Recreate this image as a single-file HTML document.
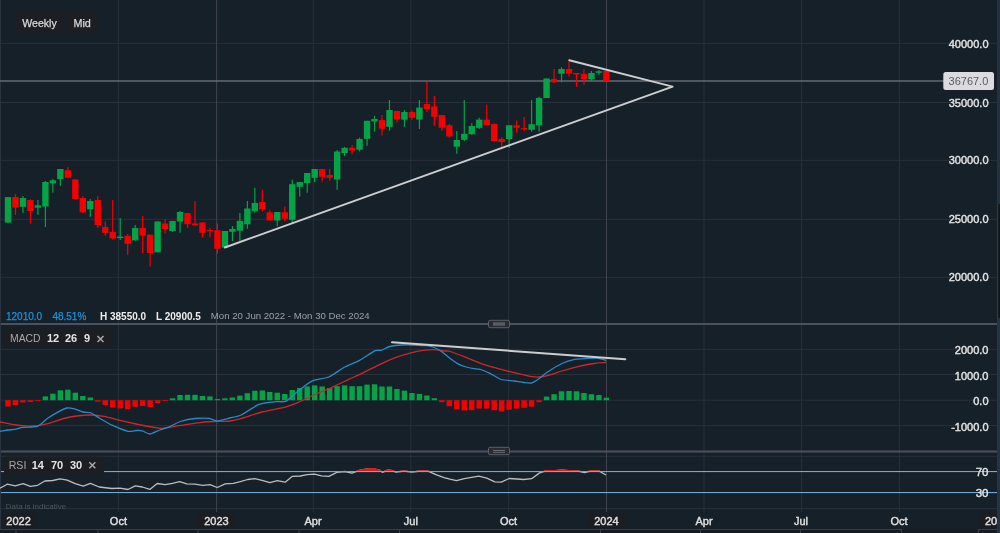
<!DOCTYPE html><html><head><meta charset="utf-8"><style>
html,body{margin:0;padding:0;background:#162029;overflow:hidden;width:1000px;height:533px}
svg{display:block;will-change:transform}
text{font-family:"Liberation Sans",sans-serif}
</style></head><body>
<svg width="1000" height="533" viewBox="0 0 1000 533">
<rect x="0" y="0" width="1000" height="533" fill="#162029"/>
<rect x="0" y="0" width="1" height="529" fill="#2a3440"/>
<rect x="1" y="42.8" width="996" height="1" fill="#29313b"/>
<rect x="1" y="102.0" width="996" height="1" fill="#29313b"/>
<rect x="1" y="159.8" width="996" height="1" fill="#29313b"/>
<rect x="1" y="218.8" width="996" height="1" fill="#29313b"/>
<rect x="1" y="276.8" width="996" height="1" fill="#29313b"/>
<rect x="1" y="348.8" width="996" height="1" fill="#29313b"/>
<rect x="1" y="374.0" width="996" height="1" fill="#29313b"/>
<rect x="1" y="399.7" width="996" height="1" fill="#29313b"/>
<rect x="1" y="425.1" width="996" height="1" fill="#29313b"/>
<rect x="1" y="455.8" width="996" height="1" fill="#29313b"/>
<rect x="1" y="508.1" width="996" height="1" fill="#29313b"/>
<rect x="117.9" y="0" width="1" height="512" fill="#29313b"/>
<rect x="216.1" y="0" width="1" height="512" fill="#40444e"/>
<rect x="312.8" y="0" width="1" height="512" fill="#29313b"/>
<rect x="410.3" y="0" width="1" height="512" fill="#29313b"/>
<rect x="508.1" y="0" width="1" height="512" fill="#29313b"/>
<rect x="606.0" y="0" width="1" height="512" fill="#40444e"/>
<rect x="703.5" y="0" width="1" height="512" fill="#29313b"/>
<rect x="800.9" y="0" width="1" height="512" fill="#29313b"/>
<rect x="898.9" y="0" width="1" height="512" fill="#29313b"/>
<rect x="0" y="80.3" width="945" height="1.4" fill="#6b7079"/>
<rect x="1" y="323" width="996" height="2" fill="#4d505e"/>
<rect x="1" y="450.5" width="996" height="2" fill="#4d505e"/>
<rect x="488.5" y="320.3" width="21" height="7.4" rx="1.5" fill="#2a2a30" stroke="#5a5e68" stroke-width="1"/>
<rect x="493" y="322.3" width="12" height="3.4" fill="#5a5c64"/>
<rect x="488.5" y="447.3" width="21" height="7.4" rx="1.5" fill="#2a2a30" stroke="#5a5e68" stroke-width="1"/>
<rect x="493" y="450" width="12" height="1" fill="#6a6c74"/><rect x="493" y="451.8" width="12" height="1" fill="#6a6c74"/>
<rect x="7.40" y="197.0" width="1.2" height="26.0" fill="#04a347"/>
<rect x="4.80" y="197.1" width="6.4" height="25.5" fill="#04a347"/>
<rect x="14.88" y="194.2" width="1.2" height="20.8" fill="#f40000"/>
<rect x="12.28" y="197.0" width="6.4" height="10.6" fill="#f40000"/>
<rect x="22.36" y="196.0" width="1.2" height="17.0" fill="#04a347"/>
<rect x="19.76" y="198.0" width="6.4" height="8.8" fill="#04a347"/>
<rect x="29.84" y="199.3" width="1.2" height="24.2" fill="#f40000"/>
<rect x="27.24" y="200.0" width="6.4" height="11.0" fill="#f40000"/>
<rect x="37.32" y="200.0" width="1.2" height="14.8" fill="#04a347"/>
<rect x="34.72" y="205.3" width="6.4" height="2.4" fill="#04a347"/>
<rect x="44.80" y="181.0" width="1.2" height="46.0" fill="#04a347"/>
<rect x="42.20" y="182.0" width="6.4" height="24.5" fill="#04a347"/>
<rect x="52.28" y="178.8" width="1.2" height="13.8" fill="#04a347"/>
<rect x="49.68" y="180.3" width="6.4" height="3.0" fill="#04a347"/>
<rect x="59.76" y="169.0" width="1.2" height="16.8" fill="#04a347"/>
<rect x="57.16" y="169.0" width="6.4" height="10.2" fill="#04a347"/>
<rect x="67.24" y="167.0" width="1.2" height="10.7" fill="#f40000"/>
<rect x="64.64" y="170.2" width="6.4" height="7.5" fill="#f40000"/>
<rect x="74.72" y="179.5" width="1.2" height="19.5" fill="#f40000"/>
<rect x="72.12" y="179.5" width="6.4" height="19.5" fill="#f40000"/>
<rect x="82.20" y="196.0" width="1.2" height="17.0" fill="#f40000"/>
<rect x="79.60" y="198.0" width="6.4" height="14.3" fill="#f40000"/>
<rect x="89.68" y="199.0" width="1.2" height="17.8" fill="#04a347"/>
<rect x="87.08" y="201.0" width="6.4" height="8.3" fill="#04a347"/>
<rect x="97.16" y="196.0" width="1.2" height="32.0" fill="#f40000"/>
<rect x="94.56" y="200.0" width="6.4" height="25.0" fill="#f40000"/>
<rect x="104.64" y="221.6" width="1.2" height="14.2" fill="#f40000"/>
<rect x="102.04" y="227.0" width="6.4" height="5.8" fill="#f40000"/>
<rect x="112.12" y="200.0" width="1.2" height="39.3" fill="#f40000"/>
<rect x="109.52" y="231.8" width="6.4" height="6.7" fill="#f40000"/>
<rect x="119.60" y="218.0" width="1.2" height="22.0" fill="#04a347"/>
<rect x="117.00" y="236.6" width="6.4" height="1.4" fill="#04a347"/>
<rect x="127.08" y="234.0" width="1.2" height="21.0" fill="#f40000"/>
<rect x="124.48" y="235.8" width="6.4" height="8.0" fill="#f40000"/>
<rect x="134.56" y="225.0" width="1.2" height="15.8" fill="#04a347"/>
<rect x="131.96" y="228.0" width="6.4" height="12.3" fill="#04a347"/>
<rect x="142.04" y="216.0" width="1.2" height="37.5" fill="#f40000"/>
<rect x="139.44" y="228.0" width="6.4" height="7.5" fill="#f40000"/>
<rect x="149.52" y="234.7" width="1.2" height="31.8" fill="#f40000"/>
<rect x="146.92" y="234.7" width="6.4" height="18.3" fill="#f40000"/>
<rect x="157.00" y="221.5" width="1.2" height="30.8" fill="#04a347"/>
<rect x="154.40" y="221.5" width="6.4" height="30.8" fill="#04a347"/>
<rect x="164.48" y="219.0" width="1.2" height="14.5" fill="#f40000"/>
<rect x="161.88" y="223.5" width="6.4" height="5.5" fill="#f40000"/>
<rect x="171.96" y="221.0" width="1.2" height="10.7" fill="#04a347"/>
<rect x="169.36" y="221.0" width="6.4" height="10.0" fill="#04a347"/>
<rect x="179.44" y="211.0" width="1.2" height="21.8" fill="#04a347"/>
<rect x="176.84" y="212.0" width="6.4" height="9.5" fill="#04a347"/>
<rect x="186.92" y="213.0" width="1.2" height="15.0" fill="#f40000"/>
<rect x="184.32" y="213.0" width="6.4" height="11.2" fill="#f40000"/>
<rect x="194.40" y="201.0" width="1.2" height="25.0" fill="#f40000"/>
<rect x="191.80" y="223.5" width="6.4" height="1.8" fill="#f40000"/>
<rect x="201.88" y="222.5" width="1.2" height="15.0" fill="#f40000"/>
<rect x="199.28" y="222.5" width="6.4" height="10.3" fill="#f40000"/>
<rect x="209.36" y="228.0" width="1.2" height="9.5" fill="#f40000"/>
<rect x="206.76" y="230.0" width="6.4" height="1.2" fill="#f40000"/>
<rect x="216.84" y="223.5" width="1.2" height="30.5" fill="#f40000"/>
<rect x="214.24" y="230.3" width="6.4" height="18.4" fill="#f40000"/>
<rect x="224.32" y="231.0" width="1.2" height="16.5" fill="#04a347"/>
<rect x="221.72" y="231.0" width="6.4" height="16.5" fill="#04a347"/>
<rect x="231.80" y="226.0" width="1.2" height="15.0" fill="#04a347"/>
<rect x="229.20" y="229.0" width="6.4" height="2.8" fill="#04a347"/>
<rect x="239.28" y="213.0" width="1.2" height="27.8" fill="#04a347"/>
<rect x="236.68" y="220.8" width="6.4" height="9.9" fill="#04a347"/>
<rect x="246.76" y="201.0" width="1.2" height="27.8" fill="#04a347"/>
<rect x="244.16" y="208.5" width="6.4" height="15.8" fill="#04a347"/>
<rect x="254.24" y="187.8" width="1.2" height="24.9" fill="#04a347"/>
<rect x="251.64" y="203.0" width="6.4" height="8.2" fill="#04a347"/>
<rect x="261.72" y="189.8" width="1.2" height="21.7" fill="#f40000"/>
<rect x="259.12" y="202.0" width="6.4" height="7.3" fill="#f40000"/>
<rect x="269.20" y="210.3" width="1.2" height="10.2" fill="#f40000"/>
<rect x="266.60" y="212.3" width="6.4" height="8.2" fill="#f40000"/>
<rect x="276.68" y="212.0" width="1.2" height="14.2" fill="#04a347"/>
<rect x="274.08" y="212.0" width="6.4" height="8.5" fill="#04a347"/>
<rect x="284.16" y="206.7" width="1.2" height="14.6" fill="#f40000"/>
<rect x="281.56" y="212.3" width="6.4" height="6.4" fill="#f40000"/>
<rect x="291.64" y="179.6" width="1.2" height="43.9" fill="#04a347"/>
<rect x="289.04" y="184.2" width="6.4" height="35.6" fill="#04a347"/>
<rect x="299.12" y="182.0" width="1.2" height="14.5" fill="#04a347"/>
<rect x="296.52" y="182.0" width="6.4" height="4.8" fill="#04a347"/>
<rect x="306.60" y="173.0" width="1.2" height="19.8" fill="#04a347"/>
<rect x="304.00" y="173.0" width="6.4" height="10.0" fill="#04a347"/>
<rect x="314.08" y="169.0" width="1.2" height="13.3" fill="#04a347"/>
<rect x="311.48" y="169.0" width="6.4" height="8.8" fill="#04a347"/>
<rect x="321.56" y="169.0" width="1.2" height="12.5" fill="#f40000"/>
<rect x="318.96" y="169.0" width="6.4" height="7.7" fill="#f40000"/>
<rect x="329.04" y="169.0" width="1.2" height="11.8" fill="#f40000"/>
<rect x="326.44" y="175.0" width="6.4" height="2.8" fill="#f40000"/>
<rect x="336.52" y="150.0" width="1.2" height="39.8" fill="#04a347"/>
<rect x="333.92" y="151.5" width="6.4" height="28.1" fill="#04a347"/>
<rect x="344.00" y="147.0" width="1.2" height="9.0" fill="#04a347"/>
<rect x="341.40" y="147.8" width="6.4" height="5.2" fill="#04a347"/>
<rect x="351.48" y="145.0" width="1.2" height="9.2" fill="#f40000"/>
<rect x="348.88" y="147.8" width="6.4" height="2.7" fill="#f40000"/>
<rect x="358.96" y="137.6" width="1.2" height="13.9" fill="#04a347"/>
<rect x="356.36" y="139.0" width="6.4" height="10.7" fill="#04a347"/>
<rect x="366.44" y="120.8" width="1.2" height="25.0" fill="#04a347"/>
<rect x="363.84" y="120.8" width="6.4" height="18.0" fill="#04a347"/>
<rect x="373.92" y="115.8" width="1.2" height="15.9" fill="#04a347"/>
<rect x="371.32" y="119.0" width="6.4" height="2.5" fill="#04a347"/>
<rect x="381.40" y="115.0" width="1.2" height="20.5" fill="#f40000"/>
<rect x="378.80" y="120.0" width="6.4" height="8.7" fill="#f40000"/>
<rect x="388.88" y="100.0" width="1.2" height="30.8" fill="#04a347"/>
<rect x="386.28" y="110.0" width="6.4" height="16.8" fill="#04a347"/>
<rect x="396.36" y="110.6" width="1.2" height="11.7" fill="#f40000"/>
<rect x="393.76" y="111.0" width="6.4" height="8.6" fill="#f40000"/>
<rect x="403.84" y="110.0" width="1.2" height="16.8" fill="#04a347"/>
<rect x="401.24" y="112.0" width="6.4" height="7.7" fill="#04a347"/>
<rect x="411.32" y="110.6" width="1.2" height="9.0" fill="#f40000"/>
<rect x="408.72" y="112.0" width="6.4" height="5.8" fill="#f40000"/>
<rect x="418.80" y="100.0" width="1.2" height="29.0" fill="#04a347"/>
<rect x="416.20" y="107.6" width="6.4" height="12.0" fill="#04a347"/>
<rect x="426.28" y="82.0" width="1.2" height="29.8" fill="#f40000"/>
<rect x="423.68" y="104.0" width="6.4" height="5.2" fill="#f40000"/>
<rect x="433.76" y="96.0" width="1.2" height="30.0" fill="#f40000"/>
<rect x="431.16" y="106.5" width="6.4" height="10.2" fill="#f40000"/>
<rect x="441.24" y="115.0" width="1.2" height="15.8" fill="#f40000"/>
<rect x="438.64" y="115.0" width="6.4" height="12.8" fill="#f40000"/>
<rect x="448.72" y="124.0" width="1.2" height="13.7" fill="#f40000"/>
<rect x="446.12" y="125.3" width="6.4" height="11.2" fill="#f40000"/>
<rect x="456.20" y="131.0" width="1.2" height="22.8" fill="#04a347"/>
<rect x="453.60" y="140.0" width="6.4" height="6.7" fill="#04a347"/>
<rect x="463.68" y="100.0" width="1.2" height="41.0" fill="#04a347"/>
<rect x="461.08" y="133.8" width="6.4" height="6.0" fill="#04a347"/>
<rect x="471.16" y="123.3" width="1.2" height="11.3" fill="#04a347"/>
<rect x="468.56" y="126.0" width="6.4" height="8.3" fill="#04a347"/>
<rect x="478.64" y="117.8" width="1.2" height="11.2" fill="#04a347"/>
<rect x="476.04" y="119.6" width="6.4" height="8.2" fill="#04a347"/>
<rect x="486.12" y="104.6" width="1.2" height="20.7" fill="#f40000"/>
<rect x="483.52" y="119.7" width="6.4" height="5.6" fill="#f40000"/>
<rect x="493.60" y="123.3" width="1.2" height="17.7" fill="#f40000"/>
<rect x="491.00" y="124.0" width="6.4" height="17.0" fill="#f40000"/>
<rect x="501.08" y="137.3" width="1.2" height="12.0" fill="#f40000"/>
<rect x="498.48" y="139.0" width="6.4" height="3.0" fill="#f40000"/>
<rect x="508.56" y="125.3" width="1.2" height="22.5" fill="#04a347"/>
<rect x="505.96" y="125.3" width="6.4" height="13.7" fill="#04a347"/>
<rect x="516.04" y="120.5" width="1.2" height="12.3" fill="#f40000"/>
<rect x="513.44" y="125.3" width="6.4" height="2.5" fill="#f40000"/>
<rect x="523.52" y="117.0" width="1.2" height="13.8" fill="#f40000"/>
<rect x="520.92" y="128.0" width="6.4" height="1.3" fill="#f40000"/>
<rect x="531.00" y="100.0" width="1.2" height="31.7" fill="#04a347"/>
<rect x="528.40" y="124.2" width="6.4" height="5.6" fill="#04a347"/>
<rect x="538.48" y="96.8" width="1.2" height="34.9" fill="#04a347"/>
<rect x="535.88" y="98.0" width="6.4" height="27.3" fill="#04a347"/>
<rect x="545.96" y="78.5" width="1.2" height="19.5" fill="#04a347"/>
<rect x="543.36" y="78.5" width="6.4" height="19.5" fill="#04a347"/>
<rect x="553.44" y="69.0" width="1.2" height="14.0" fill="#f40000"/>
<rect x="550.84" y="79.0" width="6.4" height="3.3" fill="#f40000"/>
<rect x="560.92" y="67.3" width="1.2" height="15.0" fill="#04a347"/>
<rect x="558.32" y="69.0" width="6.4" height="4.7" fill="#04a347"/>
<rect x="568.40" y="61.3" width="1.2" height="15.4" fill="#f40000"/>
<rect x="565.80" y="69.0" width="6.4" height="4.6" fill="#f40000"/>
<rect x="575.88" y="73.0" width="1.2" height="13.8" fill="#f40000"/>
<rect x="573.28" y="73.0" width="6.4" height="1.5" fill="#f40000"/>
<rect x="583.36" y="69.0" width="1.2" height="15.8" fill="#f40000"/>
<rect x="580.76" y="73.7" width="6.4" height="5.6" fill="#f40000"/>
<rect x="590.84" y="71.0" width="1.2" height="9.8" fill="#04a347"/>
<rect x="588.24" y="73.0" width="6.4" height="6.3" fill="#04a347"/>
<rect x="598.32" y="70.0" width="1.2" height="4.8" fill="#04a347"/>
<rect x="595.72" y="71.3" width="6.4" height="1.5" fill="#04a347"/>
<rect x="605.80" y="70.3" width="1.2" height="10.9" fill="#f40000"/>
<rect x="603.20" y="71.0" width="6.4" height="10.2" fill="#f40000"/>
<polyline points="224.8,247.5 672.6,86.6 569.3,60.2" fill="none" stroke="#cdcdcf" stroke-width="2" stroke-linecap="round" stroke-linejoin="round"/>
<rect x="5.30" y="400.2" width="5.4" height="6.3" fill="#f40000"/>
<rect x="12.78" y="400.2" width="5.4" height="4.8" fill="#f40000"/>
<rect x="20.26" y="400.2" width="5.4" height="2.3" fill="#f40000"/>
<rect x="27.74" y="400.2" width="5.4" height="1.8" fill="#f40000"/>
<rect x="35.22" y="400.2" width="5.4" height="0.8" fill="#f40000"/>
<rect x="42.70" y="396.4" width="5.4" height="3.8" fill="#04a347"/>
<rect x="50.18" y="393.7" width="5.4" height="6.5" fill="#04a347"/>
<rect x="57.66" y="390.3" width="5.4" height="9.9" fill="#04a347"/>
<rect x="65.14" y="389.7" width="5.4" height="10.5" fill="#04a347"/>
<rect x="72.62" y="392.7" width="5.4" height="7.5" fill="#04a347"/>
<rect x="80.10" y="396.0" width="5.4" height="4.2" fill="#04a347"/>
<rect x="87.58" y="397.5" width="5.4" height="2.7" fill="#04a347"/>
<rect x="95.06" y="400.2" width="5.4" height="1.5" fill="#f40000"/>
<rect x="102.54" y="400.2" width="5.4" height="4.8" fill="#f40000"/>
<rect x="110.02" y="400.2" width="5.4" height="7.4" fill="#f40000"/>
<rect x="117.50" y="400.2" width="5.4" height="8.2" fill="#f40000"/>
<rect x="124.98" y="400.2" width="5.4" height="9.0" fill="#f40000"/>
<rect x="132.46" y="400.2" width="5.4" height="6.6" fill="#f40000"/>
<rect x="139.94" y="400.2" width="5.4" height="5.8" fill="#f40000"/>
<rect x="147.42" y="400.2" width="5.4" height="6.8" fill="#f40000"/>
<rect x="154.90" y="400.2" width="5.4" height="2.8" fill="#f40000"/>
<rect x="162.38" y="400.2" width="5.4" height="0.8" fill="#f40000"/>
<rect x="169.86" y="398.3" width="5.4" height="1.9" fill="#04a347"/>
<rect x="177.34" y="395.0" width="5.4" height="5.2" fill="#04a347"/>
<rect x="184.82" y="394.8" width="5.4" height="5.4" fill="#04a347"/>
<rect x="192.30" y="394.8" width="5.4" height="5.4" fill="#04a347"/>
<rect x="199.78" y="396.0" width="5.4" height="4.2" fill="#04a347"/>
<rect x="207.26" y="396.4" width="5.4" height="3.8" fill="#04a347"/>
<rect x="214.74" y="399.0" width="5.4" height="1.2" fill="#04a347"/>
<rect x="222.22" y="398.3" width="5.4" height="1.9" fill="#04a347"/>
<rect x="229.70" y="397.5" width="5.4" height="2.7" fill="#04a347"/>
<rect x="237.18" y="395.6" width="5.4" height="4.6" fill="#04a347"/>
<rect x="244.66" y="393.2" width="5.4" height="7.0" fill="#04a347"/>
<rect x="252.14" y="390.8" width="5.4" height="9.4" fill="#04a347"/>
<rect x="259.62" y="390.5" width="5.4" height="9.7" fill="#04a347"/>
<rect x="267.10" y="392.0" width="5.4" height="8.2" fill="#04a347"/>
<rect x="274.58" y="392.7" width="5.4" height="7.5" fill="#04a347"/>
<rect x="282.06" y="394.0" width="5.4" height="6.2" fill="#04a347"/>
<rect x="289.54" y="390.0" width="5.4" height="10.2" fill="#04a347"/>
<rect x="297.02" y="388.0" width="5.4" height="12.2" fill="#04a347"/>
<rect x="304.50" y="386.5" width="5.4" height="13.7" fill="#04a347"/>
<rect x="311.98" y="385.4" width="5.4" height="14.8" fill="#04a347"/>
<rect x="319.46" y="386.5" width="5.4" height="13.7" fill="#04a347"/>
<rect x="326.94" y="388.0" width="5.4" height="12.2" fill="#04a347"/>
<rect x="334.42" y="386.2" width="5.4" height="14.0" fill="#04a347"/>
<rect x="341.90" y="385.4" width="5.4" height="14.8" fill="#04a347"/>
<rect x="349.38" y="386.2" width="5.4" height="14.0" fill="#04a347"/>
<rect x="356.86" y="386.2" width="5.4" height="14.0" fill="#04a347"/>
<rect x="364.34" y="384.6" width="5.4" height="15.6" fill="#04a347"/>
<rect x="371.82" y="384.3" width="5.4" height="15.9" fill="#04a347"/>
<rect x="379.30" y="386.5" width="5.4" height="13.7" fill="#04a347"/>
<rect x="386.78" y="386.5" width="5.4" height="13.7" fill="#04a347"/>
<rect x="394.26" y="389.0" width="5.4" height="11.2" fill="#04a347"/>
<rect x="401.74" y="390.7" width="5.4" height="9.5" fill="#04a347"/>
<rect x="409.22" y="393.0" width="5.4" height="7.2" fill="#04a347"/>
<rect x="416.70" y="393.9" width="5.4" height="6.3" fill="#04a347"/>
<rect x="424.18" y="395.5" width="5.4" height="4.7" fill="#04a347"/>
<rect x="431.66" y="398.2" width="5.4" height="2.0" fill="#04a347"/>
<rect x="439.14" y="400.2" width="5.4" height="2.0" fill="#f40000"/>
<rect x="446.62" y="400.2" width="5.4" height="6.0" fill="#f40000"/>
<rect x="454.10" y="400.2" width="5.4" height="9.2" fill="#f40000"/>
<rect x="461.58" y="400.2" width="5.4" height="10.3" fill="#f40000"/>
<rect x="469.06" y="400.2" width="5.4" height="10.0" fill="#f40000"/>
<rect x="476.54" y="400.2" width="5.4" height="8.4" fill="#f40000"/>
<rect x="484.02" y="400.2" width="5.4" height="8.4" fill="#f40000"/>
<rect x="491.50" y="400.2" width="5.4" height="10.0" fill="#f40000"/>
<rect x="498.98" y="400.2" width="5.4" height="11.3" fill="#f40000"/>
<rect x="506.46" y="400.2" width="5.4" height="9.5" fill="#f40000"/>
<rect x="513.94" y="400.2" width="5.4" height="8.4" fill="#f40000"/>
<rect x="521.42" y="400.2" width="5.4" height="7.6" fill="#f40000"/>
<rect x="528.90" y="400.2" width="5.4" height="6.5" fill="#f40000"/>
<rect x="536.38" y="400.2" width="5.4" height="2.0" fill="#f40000"/>
<rect x="543.86" y="396.6" width="5.4" height="3.6" fill="#04a347"/>
<rect x="551.34" y="394.2" width="5.4" height="6.0" fill="#04a347"/>
<rect x="558.82" y="391.3" width="5.4" height="8.9" fill="#04a347"/>
<rect x="566.30" y="391.0" width="5.4" height="9.2" fill="#04a347"/>
<rect x="573.78" y="391.3" width="5.4" height="8.9" fill="#04a347"/>
<rect x="581.26" y="393.0" width="5.4" height="7.2" fill="#04a347"/>
<rect x="588.74" y="394.2" width="5.4" height="6.0" fill="#04a347"/>
<rect x="596.22" y="395.0" width="5.4" height="5.2" fill="#04a347"/>
<rect x="603.70" y="397.7" width="5.4" height="2.5" fill="#04a347"/>
<path d="M0.0,422.0 C2.7,422.5 10.7,424.3 16.0,425.0 C21.3,425.7 26.7,426.2 32.0,426.0 C37.3,425.8 42.7,424.9 48.0,423.6 C53.3,422.4 59.2,419.8 64.0,418.5 C68.8,417.2 72.3,416.6 76.8,416.0 C81.3,415.4 86.7,414.9 91.2,415.0 C95.7,415.1 99.2,415.5 104.0,416.4 C108.8,417.3 114.7,419.1 120.0,420.4 C125.3,421.7 130.7,422.9 136.0,424.0 C141.3,425.1 147.5,426.3 152.0,427.0 C156.5,427.7 158.3,428.6 162.8,428.4 C167.3,428.2 172.9,426.6 178.8,425.7 C184.7,424.8 192.1,423.5 198.0,422.8 C203.9,422.1 208.7,421.8 214.0,421.5 C219.3,421.2 225.2,421.6 230.0,421.0 C234.8,420.4 237.5,419.5 242.8,418.0 C248.1,416.5 254.8,413.9 262.0,412.0 C269.2,410.1 280.1,408.3 286.0,406.8 C291.9,405.3 292.2,404.9 297.2,402.8 C302.2,400.7 310.2,396.6 316.0,394.0 C321.8,391.4 326.7,389.7 332.0,387.3 C337.3,384.9 342.7,382.3 348.0,379.8 C353.3,377.3 358.7,374.9 364.0,372.3 C369.3,369.7 374.7,366.8 380.0,364.3 C385.3,361.8 390.7,359.3 396.0,357.4 C401.3,355.4 407.2,353.8 412.0,352.6 C416.8,351.4 421.1,350.7 424.8,350.2 C428.5,349.7 431.2,349.6 434.4,349.7 C437.6,349.8 441.4,350.7 444.0,351.0 C446.6,351.3 446.3,350.4 450.0,351.5 C453.7,352.6 460.7,355.3 466.0,357.4 C471.3,359.4 476.7,361.9 482.0,363.8 C487.3,365.7 492.7,367.1 498.0,368.6 C503.3,370.1 508.7,371.3 514.0,372.6 C519.3,373.9 525.7,375.6 530.0,376.3 C534.3,377.0 536.4,377.2 539.6,377.0 C542.8,376.8 545.5,376.0 549.2,375.0 C552.9,374.0 557.2,372.4 562.0,371.0 C566.8,369.6 572.7,367.9 578.0,366.7 C583.3,365.4 589.3,364.2 594.0,363.5 C598.7,362.8 604.0,362.7 606.0,362.5" fill="none" stroke="#cf262b" stroke-width="1.3" stroke-linejoin="round"/>
<path d="M0.0,431.3 C0.8,431.2 6.4,430.2 8.0,430.0 C9.6,429.8 14.6,429.5 16.0,429.2 C17.4,428.9 20.8,427.5 22.4,427.3 C24.0,427.1 30.4,427.1 32.0,427.0 C33.6,426.9 36.8,426.9 38.4,426.0 C40.0,425.1 45.9,419.5 48.0,418.0 C50.1,416.5 57.3,412.3 59.2,411.3 C61.1,410.3 65.6,408.2 67.2,408.0 C68.8,407.8 73.6,408.8 75.2,409.2 C76.8,409.6 81.6,411.6 83.2,412.0 C84.8,412.4 89.6,412.4 91.2,413.0 C92.8,413.6 97.1,416.8 99.2,418.0 C101.3,419.2 109.1,423.9 112.0,425.2 C114.9,426.5 125.6,430.8 128.0,431.3 C130.4,431.8 134.6,430.6 136.0,430.5 C137.4,430.4 141.0,430.4 142.4,430.8 C143.8,431.2 148.1,434.1 149.8,434.0 C151.5,433.9 157.7,430.7 159.6,430.0 C161.5,429.3 167.1,427.7 169.2,426.8 C171.3,425.9 177.8,422.3 180.4,421.5 C183.0,420.7 191.9,418.8 194.8,418.5 C197.7,418.2 207.0,418.1 209.2,418.3 C211.4,418.6 215.1,421.0 217.2,421.0 C219.3,421.0 227.6,418.6 230.0,418.0 C232.4,417.4 238.5,416.3 241.2,415.0 C243.9,413.7 254.8,406.4 257.2,405.2 C259.6,404.0 263.3,403.4 265.2,403.0 C267.1,402.6 274.3,401.9 276.4,401.7 C278.5,401.5 283.8,402.3 286.0,401.2 C288.2,400.1 295.3,393.1 298.0,391.0 C300.7,388.9 309.7,382.0 312.8,380.6 C315.9,379.2 325.6,378.4 328.8,377.0 C332.0,375.6 341.8,368.6 344.8,367.0 C347.8,365.4 356.2,362.2 359.2,360.6 C362.2,359.0 373.0,351.7 375.2,350.7 C377.4,349.7 380.2,350.6 381.6,350.2 C383.0,349.8 387.5,347.0 389.6,346.5 C391.7,346.0 400.2,345.1 402.4,345.0 C404.6,344.9 409.6,344.9 412.0,345.0 C414.4,345.1 424.3,345.5 426.4,345.7 C428.5,345.9 431.4,346.5 432.8,347.0 C434.2,347.5 439.1,349.8 440.8,351.0 C442.5,352.2 448.5,357.3 450.2,358.6 C451.9,359.9 456.4,363.0 458.0,363.8 C459.6,364.6 464.4,366.5 466.0,367.0 C467.6,367.5 472.4,368.3 474.0,368.6 C475.6,368.9 480.4,369.5 482.0,370.0 C483.6,370.5 488.1,372.4 490.0,373.4 C491.9,374.3 498.8,378.7 501.2,379.5 C503.6,380.3 511.8,380.7 514.0,381.0 C516.2,381.3 521.8,382.3 523.6,382.5 C525.4,382.7 530.0,383.4 531.6,383.0 C533.2,382.6 538.0,379.3 539.6,378.2 C541.2,377.1 545.4,373.5 547.6,372.0 C549.8,370.5 559.3,364.8 562.0,363.5 C564.7,362.2 572.4,359.8 574.8,359.3 C577.2,358.8 583.8,358.6 586.0,358.5 C588.2,358.4 595.2,358.0 597.2,358.2 C599.2,358.4 605.1,360.1 606.0,360.3" fill="none" stroke="#2b8ac6" stroke-width="1.3" stroke-linejoin="round"/>
<line x1="392" y1="342.2" x2="625.3" y2="359.2" stroke="#cdcdcf" stroke-width="2" stroke-linecap="round"/>
<rect x="1" y="471" width="4" height="1.1" fill="#72aad4"/>
<rect x="1" y="492" width="996" height="1.1" fill="#72aad4"/>
<path d="M0.0,488.2 L7.2,484.2 L15.2,485.8 L23.2,483.7 L30.4,486.3 L37.6,485.3 L44.8,481.0 L52.8,480.5 L60.0,478.9 L67.2,480.2 L75.2,483.7 L83.2,486.1 L90.4,483.4 L99.2,487.0 L112.0,488.5 L120.0,488.2 L128.0,489.5 L135.2,485.8 L142.4,487.0 L149.8,489.4 L157.2,483.5 L165.2,484.6 L172.4,483.3 L179.6,481.7 L186.8,483.8 L194.8,484.1 L202.8,485.4 L210.0,484.6 L217.2,487.5 L225.2,483.8 L233.2,483.3 L240.4,481.7 L247.6,479.5 L254.8,478.7 L262.0,480.3 L270.0,482.7 L277.2,480.6 L285.2,482.2 L292.4,476.3 L300.2,476.0 L307.2,474.7 L314.4,474.2 L321.6,475.8 L328.8,476.3 L336.8,472.3 L344.8,471.5 L352.0,473.1 L359.2,470.5 L367.2,469.0 L373.6,468.8 L380.0,470.5 L382.4,472.3 L388.8,469.7 L396.0,472.1 L404.0,471.0 L412.0,472.2 L420.0,471.0 L428.0,471.1 L436.0,474.7 L444.0,477.7 L450.0,479.2 L456.4,480.6 L464.4,478.7 L471.6,477.4 L478.8,476.1 L486.8,478.2 L494.8,481.9 L501.2,482.2 L509.2,478.5 L517.2,479.0 L523.6,479.5 L531.6,478.7 L539.6,472.9 L546.0,470.8 L554.0,470.8 L562.0,469.9 L570.0,470.8 L578.0,471.0 L584.4,472.6 L590.8,471.0 L598.8,470.9 L606.0,475.0" fill="none" stroke="#bcbcbe" stroke-width="1.3" stroke-linejoin="round"/>
<path d="M356.4,471.5 L359.2,470.5 L367.2,469.0 L373.6,468.8 L380.0,470.5 L381.3,471.5 Z" fill="#d81c1c" stroke="none"/>
<path d="M356.4,471.5 L359.2,470.5 L367.2,469.0 L373.6,468.8 L380.0,470.5 L381.3,471.5" fill="none" stroke="#d81c1c" stroke-width="1.4" stroke-linejoin="round" stroke-linecap="round"/>
<path d="M384.4,471.5 L388.8,469.7 L394.2,471.5 Z" fill="#d81c1c" stroke="none"/>
<path d="M384.4,471.5 L388.8,469.7 L394.2,471.5" fill="none" stroke="#d81c1c" stroke-width="1.4" stroke-linejoin="round" stroke-linecap="round"/>
<path d="M400.4,471.5 L404.0,471.0 L407.3,471.5 Z" fill="#d81c1c" stroke="none"/>
<path d="M400.4,471.5 L404.0,471.0 L407.3,471.5" fill="none" stroke="#d81c1c" stroke-width="1.4" stroke-linejoin="round" stroke-linecap="round"/>
<path d="M416.7,471.5 L420.0,471.0 L428.0,471.1 L428.9,471.5 Z" fill="#d81c1c" stroke="none"/>
<path d="M416.7,471.5 L420.0,471.0 L428.0,471.1 L428.9,471.5" fill="none" stroke="#d81c1c" stroke-width="1.4" stroke-linejoin="round" stroke-linecap="round"/>
<path d="M543.9,471.5 L546.0,470.8 L554.0,470.8 L562.0,469.9 L570.0,470.8 L578.0,471.0 L580.0,471.5 Z" fill="#d81c1c" stroke="none"/>
<path d="M543.9,471.5 L546.0,470.8 L554.0,470.8 L562.0,469.9 L570.0,470.8 L578.0,471.0 L580.0,471.5" fill="none" stroke="#d81c1c" stroke-width="1.4" stroke-linejoin="round" stroke-linecap="round"/>
<path d="M588.8,471.5 L590.8,471.0 L598.8,470.9 L599.9,471.5 Z" fill="#d81c1c" stroke="none"/>
<path d="M588.8,471.5 L590.8,471.0 L598.8,470.9 L599.9,471.5" fill="none" stroke="#d81c1c" stroke-width="1.4" stroke-linejoin="round" stroke-linecap="round"/>
<rect x="104" y="471" width="893" height="1.1" fill="#72aad4"/>
<rect x="0" y="529" width="901.5" height="1" fill="#3a4048"/>
<rect x="978" y="529" width="20" height="1" fill="#3a4048"/>
<path d="M947,533 L947,531.5 Q949,530 953,530.5 L953,533 Z" fill="#1e8fd6"/>
<rect x="0" y="530" width="1000" height="3" fill="#151b22"/>
<rect x="15.5" y="529" width="1" height="4" fill="#3a4048"/>
<rect x="97.5" y="529" width="1" height="4" fill="#3a4048"/>
<rect x="197.5" y="529" width="1" height="4" fill="#3a4048"/>
<rect x="298.5" y="529" width="1" height="4" fill="#3a4048"/>
<rect x="399" y="529" width="1" height="4" fill="#3a4048"/>
<rect x="600" y="529" width="1" height="4" fill="#3a4048"/>
<rect x="700" y="529" width="1" height="4" fill="#3a4048"/>
<rect x="800" y="529" width="1" height="4" fill="#3a4048"/>
<rect x="901" y="529" width="1" height="4" fill="#3a4048"/>
<rect x="978" y="529" width="1" height="4" fill="#3a4048"/>
<rect x="15" y="11.4" width="49.2" height="21.6" rx="2" fill="#1c1e23"/>
<rect x="66.6" y="11.4" width="31.2" height="21.6" rx="2" fill="#1c1e23"/>
<text x="22.2" y="27" font-size="10.6" fill="#dadada" font-weight="normal" text-anchor="start"  stroke="#dadada" stroke-width="0.25">Weekly</text>
<text x="73.4" y="27" font-size="10.8" fill="#dadada" font-weight="normal" text-anchor="start"  stroke="#dadada" stroke-width="0.25">Mid</text>
<text x="988.5" y="48.3" font-size="11" fill="#e4e4e4" font-weight="normal" text-anchor="end"  stroke="#e4e4e4" stroke-width="0.4">40000.0</text>
<text x="988.5" y="106.5" font-size="11" fill="#e4e4e4" font-weight="normal" text-anchor="end"  stroke="#e4e4e4" stroke-width="0.4">35000.0</text>
<text x="988.5" y="164.3" font-size="11" fill="#e4e4e4" font-weight="normal" text-anchor="end"  stroke="#e4e4e4" stroke-width="0.4">30000.0</text>
<text x="988.5" y="223.3" font-size="11" fill="#e4e4e4" font-weight="normal" text-anchor="end"  stroke="#e4e4e4" stroke-width="0.4">25000.0</text>
<text x="988.5" y="281.3" font-size="11" fill="#e4e4e4" font-weight="normal" text-anchor="end"  stroke="#e4e4e4" stroke-width="0.4">20000.0</text>
<text x="988.5" y="354.3" font-size="11" fill="#e4e4e4" font-weight="normal" text-anchor="end"  stroke="#e4e4e4" stroke-width="0.4">2000.0</text>
<text x="988.5" y="379.5" font-size="11" fill="#e4e4e4" font-weight="normal" text-anchor="end"  stroke="#e4e4e4" stroke-width="0.4">1000.0</text>
<text x="988.5" y="405.2" font-size="11" fill="#e4e4e4" font-weight="normal" text-anchor="end"  stroke="#e4e4e4" stroke-width="0.4">0.0</text>
<text x="988.5" y="430.6" font-size="11" fill="#e4e4e4" font-weight="normal" text-anchor="end"  stroke="#e4e4e4" stroke-width="0.4">-1000.0</text>
<rect x="943.3" y="72" width="50.7" height="18" rx="2.5" fill="#dcdce0"/>
<text x="988.3" y="85" font-size="11" fill="#5a5a60" font-weight="normal" text-anchor="end" >36767.0</text>
<text x="988.5" y="475.5" font-size="11.5" fill="#e4e4e4" font-weight="normal" text-anchor="end"  stroke="#e4e4e4" stroke-width="0.4">70</text>
<text x="988.5" y="496.5" font-size="11.5" fill="#e4e4e4" font-weight="normal" text-anchor="end"  stroke="#e4e4e4" stroke-width="0.4">30</text>
<text x="6" y="319.5" font-size="10" fill="#1e92dc" font-weight="normal" text-anchor="start"  stroke="#1e92dc" stroke-width="0.25">12010.0</text>
<text x="52.4" y="319.5" font-size="10" fill="#1e92dc" font-weight="normal" text-anchor="start"  stroke="#1e92dc" stroke-width="0.25">48.51%</text>
<text x="100" y="319.5" font-size="10" fill="#ececec" font-weight="bold" text-anchor="start" >H 38550.0</text>
<text x="156" y="319.5" font-size="10" fill="#ececec" font-weight="bold" text-anchor="start" >L 20900.5</text>
<text x="210.8" y="318.7" font-size="9.65" fill="#9ca0a6" font-weight="normal" text-anchor="start" >Mon 20 Jun 2022 - Mon 30 Dec 2024</text>
<rect x="4" y="327.8" width="107" height="18.5" rx="2" fill="#1b1e23"/>
<text x="10" y="342.4" font-size="10.4" fill="#a8a8aa" font-weight="normal" text-anchor="start" >MACD</text>
<text x="47" y="342.4" font-size="11" fill="#e4e4e4" font-weight="bold" text-anchor="start" >12</text>
<text x="65" y="342.4" font-size="11" fill="#e4e4e4" font-weight="bold" text-anchor="start" >26</text>
<text x="84" y="342.4" font-size="11" fill="#e4e4e4" font-weight="bold" text-anchor="start" >9</text>
<path d="M97.5,336 L103.5,342 M103.5,336 L97.5,342" stroke="#a8a8aa" stroke-width="1.5"/>
<rect x="4" y="456.5" width="100" height="18.2" rx="2" fill="#1b1e23"/>
<text x="8.7" y="469.3" font-size="10.6" fill="#a8a8aa" font-weight="normal" text-anchor="start" >RSI</text>
<text x="31.7" y="469.3" font-size="11" fill="#e4e4e4" font-weight="bold" text-anchor="start" >14</text>
<text x="50.9" y="469.3" font-size="11" fill="#e4e4e4" font-weight="bold" text-anchor="start" >70</text>
<text x="70" y="469.3" font-size="11" fill="#e4e4e4" font-weight="bold" text-anchor="start" >30</text>
<path d="M89.3,462.3 L95.3,468.3 M95.3,462.3 L89.3,468.3" stroke="#a8a8aa" stroke-width="1.5"/>
<text x="5.7" y="508.5" font-size="8" fill="#4e5660" font-weight="normal" text-anchor="start" >Data is indicative</text>
<text x="118.4" y="525.3" font-size="11" fill="#e0e0e0" font-weight="normal" text-anchor="middle"  stroke="#e0e0e0" stroke-width="0.4">Oct</text>
<text x="313" y="525.3" font-size="11" fill="#e0e0e0" font-weight="normal" text-anchor="middle"  stroke="#e0e0e0" stroke-width="0.4">Apr</text>
<text x="410.8" y="525.3" font-size="11" fill="#e0e0e0" font-weight="normal" text-anchor="middle"  stroke="#e0e0e0" stroke-width="0.4">Jul</text>
<text x="508.6" y="525.3" font-size="11" fill="#e0e0e0" font-weight="normal" text-anchor="middle"  stroke="#e0e0e0" stroke-width="0.4">Oct</text>
<text x="704" y="525.3" font-size="11" fill="#e0e0e0" font-weight="normal" text-anchor="middle"  stroke="#e0e0e0" stroke-width="0.4">Apr</text>
<text x="801" y="525.3" font-size="11" fill="#e0e0e0" font-weight="normal" text-anchor="middle"  stroke="#e0e0e0" stroke-width="0.4">Jul</text>
<text x="899" y="525.3" font-size="11" fill="#e0e0e0" font-weight="normal" text-anchor="middle"  stroke="#e0e0e0" stroke-width="0.4">Oct</text>
<rect x="1.5" y="513.7" width="34.2" height="14.6" fill="#1b1d21"/>
<text x="18.6" y="525.3" font-size="11" fill="#e0e0e0" font-weight="normal" text-anchor="middle"  stroke="#e0e0e0" stroke-width="0.4">2022</text>
<rect x="197.8" y="513.7" width="37.2" height="14.6" fill="#1b1d21"/>
<text x="216.4" y="525.3" font-size="11" fill="#e0e0e0" font-weight="normal" text-anchor="middle"  stroke="#e0e0e0" stroke-width="0.4">2023</text>
<rect x="588" y="513.7" width="37.0" height="14.6" fill="#1b1d21"/>
<text x="606.5" y="525.3" font-size="11" fill="#e0e0e0" font-weight="normal" text-anchor="middle"  stroke="#e0e0e0" stroke-width="0.4">2024</text>
<rect x="978.75" y="513.7" width="21" height="14.6" fill="#1b1d21"/>
<text x="985" y="525.3" font-size="11" fill="#e0e0e0" font-weight="normal" text-anchor="start"  stroke="#e0e0e0" stroke-width="0.4">2025</text>
<rect x="997" y="0" width="3" height="204" fill="#243240"/>
<rect x="997" y="204" width="3" height="115" fill="#10161c"/>
<rect x="997" y="204" width="1.2" height="115" fill="#2a3a48"/>
<rect x="997" y="318.5" width="3" height="1" fill="#3a4652"/>
<rect x="997" y="319.5" width="3" height="214" fill="#253443"/>
</svg></body></html>
